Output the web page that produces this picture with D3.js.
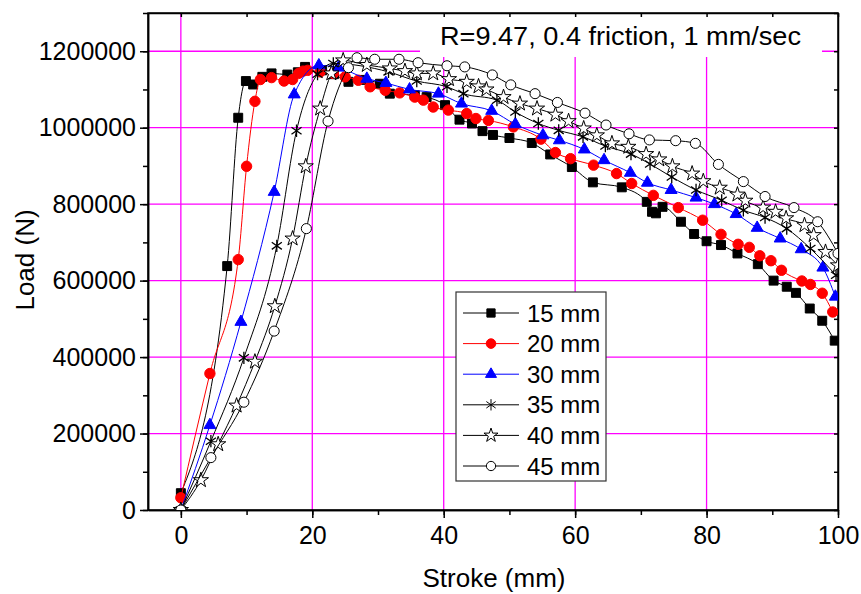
<!DOCTYPE html>
<html>
<head>
<meta charset="utf-8">
<script src="https://d3js.org/d3.v7.min.js"></script>
<style>
    body { margin: 0; background: #fff; }
    svg text { font-family: "Liberation Sans", Arial, sans-serif; fill: #000; }
</style>
</head>
<body>
<svg id="chart" width="861" height="594"></svg>
<script>
// values: [stroke (mm), load (N)]
var seriesNames = ["15 mm", "20 mm", "30 mm", "35 mm", "40 mm", "45 mm"];
var xTicks = [0, 20, 40, 60, 80, 100];
var yTicks = [0, 200000, 400000, 600000, 800000, 1000000, 1200000];
var titleText = "R=9.47, 0.4 friction, 1 mm/sec";

var load15 = [[0, 44000], [7.05, 638000], [8.73, 1026000], [9.9, 1122000], [11.0, 1113000], [12.4, 1133000],
    [13.8, 1142000], [16.2, 1139000], [17.8, 1145000], [18.9, 1159000], [21.5, 1150000], [23.3, 1140000],
    [25.5, 1120000], [27.5, 1125000], [30.3, 1115000], [31.8, 1089000], [35.6, 1085000], [37.4, 1080000],
    [40.2, 1059000], [42.4, 1021000], [44.3, 1011000], [45.9, 991000], [47.5, 981000], [50.0, 973000],
    [53.4, 960000], [56.2, 930000], [59.5, 897000], [62.7, 857000], [67.1, 844000], [70.9, 806000],
    [71.7, 780000], [72.3, 776000], [73.3, 793000], [76.1, 754000], [78.1, 722000], [80.0, 703000],
    [82.2, 693000], [84.7, 671000], [87.8, 643000], [90.2, 600000], [92.2, 584000], [93.6, 568000],
    [95.7, 527000], [97.6, 495000], [99.5, 443000]];

var load20 = [[0, 32000], [4.42, 357000], [8.73, 655000], [10.0, 899000], [11.27, 1069000], [12.1, 1126000],
    [13.8, 1131000], [15.7, 1122000], [17.0, 1126000], [17.9, 1142000], [18.6, 1148000], [19.3, 1150000],
    [21.2, 1146000], [23.2, 1142000], [25.0, 1133000], [27.0, 1124000], [28.8, 1107000], [31.1, 1098000],
    [33.3, 1091000], [35.6, 1080000], [36.9, 1072000], [38.4, 1054000], [40.7, 1046000], [43.5, 1037000],
    [44.9, 1024000], [46.8, 1019000], [50.6, 1002000], [54.8, 970000], [57.0, 935000], [59.3, 919000],
    [62.8, 902000], [66.3, 880000], [68.6, 854000], [71.9, 823000], [75.7, 791000], [79.4, 758000],
    [82.2, 721000], [84.8, 695000], [86.5, 687000], [88.1, 665000], [89.8, 652000], [91.4, 627000],
    [94.5, 599000], [95.8, 590000], [97.6, 567000], [99.2, 518000]];

var load30 = [[0, 0], [4.42, 222000], [9.14, 492000], [14.2, 832000], [17.25, 1087000], [21.0, 1163000],
    [24.0, 1157000], [28.3, 1128000], [31.2, 1117000], [34.8, 1100000], [39.2, 1089000], [42.7, 1063000],
    [47.3, 1044000], [50.9, 1009000], [55.1, 980000], [57.6, 967000], [61.4, 943000], [64.4, 915000],
    [68.4, 882000], [71.0, 856000], [74.6, 837000], [78.4, 817000], [81.2, 800000], [84.5, 774000],
    [87.7, 738000], [91.2, 710000], [94.4, 682000], [97.7, 634000], [99.6, 558000]];

var load35 = [[0, 0], [4.57, 180000], [9.59, 398000], [14.6, 691000], [17.6, 992000], [20.8, 1140000],
    [23.2, 1168000], [31.6, 1146000], [35.9, 1122000], [40.5, 1107000], [43.0, 1089000], [48.1, 1072000],
    [50.9, 1041000], [54.4, 1011000], [57.5, 993000], [61.2, 976000], [64.6, 952000], [68.5, 931000],
    [71.4, 905000], [74.7, 871000], [78.4, 837000], [82.3, 810000], [85.6, 784000], [88.9, 765000],
    [92.2, 736000], [95.8, 684000], [99.7, 614000]];

var load40 = [[0, 0], [3.05, 78000], [5.68, 172000], [8.48, 273000], [11.27, 388000], [14.3, 533000],
    [17.0, 710000], [19.0, 899000], [21.2, 1050000], [22.9, 1142000], [24.7, 1176000], [28.3, 1164000],
    [31.8, 1155000], [34.1, 1148000], [35.9, 1142000], [38.4, 1142000], [40.8, 1127000], [43.5, 1120000],
    [45.3, 1108000], [46.5, 1100000], [49.1, 1080000], [51.6, 1063000], [54.2, 1050000], [57.0, 1034000],
    [59.0, 1017000], [61.3, 998000], [63.3, 980000], [65.6, 959000], [68.1, 950000], [70.8, 931000],
    [72.8, 917000], [74.8, 899000], [77.8, 880000], [79.5, 860000], [82.0, 843000], [84.7, 825000],
    [85.9, 809000], [88.6, 791000], [90.5, 780000], [92.1, 763000], [94.9, 745000], [96.3, 719000],
    [98.1, 675000], [100, 640000]];

var load45 = [[0, 0], [4.57, 137000], [9.59, 282000], [14.2, 468000], [19.1, 736000], [22.4, 1017000],
    [25.5, 1157000], [26.8, 1183000], [29.5, 1179000], [33.2, 1179000], [36.1, 1170000], [40.5, 1162000],
    [43.2, 1159000], [47.4, 1138000], [50.2, 1112000], [53.9, 1089000], [57.3, 1066000], [61.5, 1038000],
    [64.7, 1007000], [68.2, 984000], [71.3, 968000], [75.3, 966000], [78.3, 959000], [81.8, 904000],
    [85.6, 859000], [88.9, 820000], [93.3, 791000], [96.9, 754000], [100, 671000]];

var seriesData = [load15, load20, load30, load35, load40, load45];

document.addEventListener('DOMContentLoaded', function () {
    drawChart();
});

// 6-armed asterisk, no fill
var symbolAsterisk = {
    draw: function (context, size) {
        var r = Math.sqrt(size) * 0.6;
        var angles = [90, 35, 145];
        for (var i = 0; i < angles.length; i++) {
            var a = angles[i] * Math.PI / 180;
            context.moveTo(-r * Math.cos(a), -r * Math.sin(a));
            context.lineTo(r * Math.cos(a), r * Math.sin(a));
        }
    }
};

var styles = [
    { color: "#000", type: d3.symbolSquare, size: 80, fill: "#000" },
    { color: "#ff0000", type: d3.symbolCircle, size: 85, fill: "#ff0000" },
    { color: "#0000ff", type: d3.symbolTriangle, size: 62, fill: "#0000ff" },
    { color: "#000", type: symbolAsterisk, size: 105, fill: "none" },
    { color: "#000", type: d3.symbolStar, size: 72, fill: "#fff" },
    { color: "#000", type: d3.symbolCircle, size: 80, fill: "#fff" }
];

function drawChart() {
    var left = 148, right = 838, top = 13, bottom = 510;

    var x = d3.scaleLinear().domain([-5, 100]).range([left, right]);
    var y = d3.scaleLinear().domain([0, 1300000]).range([bottom, top]);

    const svg = d3.select('#chart');
    svg.selectAll("*").remove();

    svg.append('defs').append('clipPath').attr('id', 'plotClip')
        .append('rect')
        .attr('x', left).attr('y', top)
        .attr('width', right - left).attr('height', bottom - top);

    // grid
    var grid = svg.append('g').attr('stroke', '#ff00ff').attr('stroke-width', 1.3);
    grid.selectAll('.vgrid')
        .data(xTicks.filter(d => d < 100))
        .enter().append('line')
        .attr('x1', d => x(d)).attr('x2', d => x(d))
        .attr('y1', top).attr('y2', bottom);
    grid.selectAll('.hgrid')
        .data(yTicks.filter(d => d > 0))
        .enter().append('line')
        .attr('x1', left).attr('x2', right)
        .attr('y1', d => y(d)).attr('y2', d => y(d));

    // title label box hides the grid behind it
    svg.append('rect')
        .attr('x', 420).attr('y', top + 1)
        .attr('width', 402).attr('height', 43)
        .attr('fill', '#fff');
    svg.append('text')
        .attr('x', 440).attr('y', 45)
        .attr('font-size', 26)
        .attr('textLength', 361)
        .attr('lengthAdjust', 'spacingAndGlyphs')
        .text(titleText);

    // axes: bottom/left ticks out, top/right ticks in
    var xMinor = d3.range(0, 101, 10);
    var yMinor = d3.range(0, 1300001, 100000);

    var axisBottom = d3.axisBottom(x).tickValues(xTicks).tickSize(8).tickPadding(8).tickSizeOuter(0);
    var axisBottomMinor = d3.axisBottom(x).tickValues(xMinor).tickSize(5).tickFormat('').tickSizeOuter(0);
    var axisLeft = d3.axisLeft(y).tickValues(yTicks).tickSize(8).tickPadding(4).tickSizeOuter(0).tickFormat(d3.format('d'));
    var axisLeftMinor = d3.axisLeft(y).tickValues(yMinor).tickSize(5).tickFormat('').tickSizeOuter(0);
    var axisTop = d3.axisBottom(x).tickValues(xMinor).tickSize(4).tickFormat('').tickSizeOuter(0);
    var axisRight = d3.axisLeft(y).tickValues(yMinor).tickSize(4).tickFormat('').tickSizeOuter(0);

    var gx = svg.append('g').attr('transform', 'translate(0,' + bottom + ')').call(axisBottom);
    svg.append('g').attr('transform', 'translate(0,' + bottom + ')').call(axisBottomMinor);
    var gy = svg.append('g').attr('transform', 'translate(' + left + ',0)').call(axisLeft);
    svg.append('g').attr('transform', 'translate(' + left + ',0)').call(axisLeftMinor);
    svg.append('g').attr('transform', 'translate(0,' + top + ')').call(axisTop);
    svg.append('g').attr('transform', 'translate(' + right + ',0)').call(axisRight);

    gx.selectAll('text').attr('font-size', 25).attr('font-family', '"Liberation Sans", Arial, sans-serif').attr('fill', '#000');
    gy.selectAll('text').attr('font-size', 25).attr('font-family', '"Liberation Sans", Arial, sans-serif').attr('fill', '#000');
    svg.selectAll('.domain').attr('stroke', '#000').attr('stroke-width', 1.5);
    svg.selectAll('.tick line').attr('stroke', '#000').attr('stroke-width', 1.5);

    // frame
    svg.append('rect')
        .attr('x', left).attr('y', top)
        .attr('width', right - left).attr('height', bottom - top)
        .attr('fill', 'none').attr('stroke', '#000').attr('stroke-width', 1.5);

    // series
    var plot = svg.append('g').attr('clip-path', 'url(#plotClip)');
    var line = d3.line()
        .x(d => x(d[0]))
        .y(d => y(d[1]))
        .curve(d3.curveMonotoneX);

    for (var i = 0; i < seriesData.length; i++) {
        var st = styles[i];
        var g = plot.append('g');
        g.append('path')
            .datum(seriesData[i])
            .attr('d', line)
            .attr('fill', 'none')
            .attr('stroke', st.color)
            .attr('stroke-width', 1);
        g.selectAll('.marker')
            .data(seriesData[i])
            .enter().append('path')
            .attr('class', 'marker')
            .attr('d', d3.symbol().type(st.type).size(st.size))
            .attr('transform', d => 'translate(' + x(d[0]) + ',' + y(d[1]) + ')')
            .attr('fill', st.fill)
            .attr('stroke', st.fill === 'none' || st.fill === '#fff' ? '#000' : st.color)
            .attr('stroke-width', st.fill === 'none' ? 1.3 : 1);
    }

    // legend
    var legendRow = d3.scalePoint().domain(seriesNames).range([313, 466]);
    var legend = svg.append('g');
    legend.append('rect')
        .attr('x', 456).attr('y', 292)
        .attr('width', 150).attr('height', 189)
        .attr('fill', '#fff').attr('stroke', '#333').attr('stroke-width', 1.2);

    var rows = legend.selectAll('.row')
        .data(seriesNames)
        .enter().append('g')
        .attr('transform', d => 'translate(0,' + legendRow(d) + ')');
    rows.append('line')
        .attr('x1', 463).attr('x2', 519)
        .attr('stroke', (d, i) => styles[i].color)
        .attr('stroke-width', 1);
    rows.append('path')
        .attr('d', (d, i) => d3.symbol().type(styles[i].type).size(styles[i].size * 0.85)())
        .attr('transform', 'translate(491,0)')
        .attr('fill', (d, i) => styles[i].fill)
        .attr('stroke', (d, i) => styles[i].fill === 'none' || styles[i].fill === '#fff' ? '#000' : styles[i].color);
    rows.append('text')
        .attr('x', 527)
        .attr('dy', '0.36em')
        .attr('font-size', 24)
        .text(d => d);

    // axis titles
    svg.append('text')
        .attr('x', 494).attr('y', 587)
        .attr('text-anchor', 'middle')
        .attr('font-size', 26)
        .text('Stroke (mm)');
    svg.append('text')
        .attr('transform', 'translate(34,260) rotate(-90)')
        .attr('text-anchor', 'middle')
        .attr('font-size', 26)
        .text('Load (N)');
}
</script>
</body>
</html>
